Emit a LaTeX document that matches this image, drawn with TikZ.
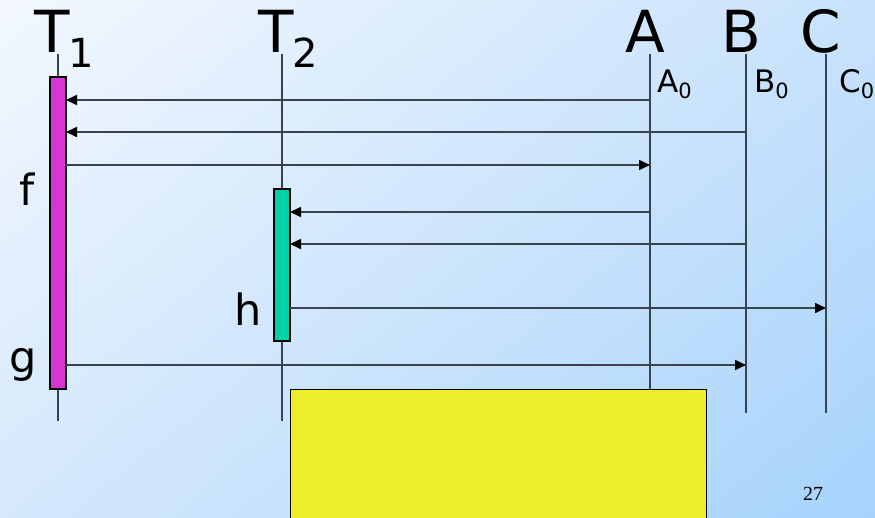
\documentclass[tikz,border=0pt]{standalone}
\usepackage{fontspec}
\setmainfont{DejaVu Sans}
\newfontfamily\pagenumfont{Liberation Serif}
\usepackage{tikz}
\usetikzlibrary{arrows.meta,positioning,calc,shadings}
\definecolor{bgtopleft}{RGB}{243,248,254}
\definecolor{bgtopright}{RGB}{200,226,252}
\definecolor{bgbottomleft}{RGB}{213,232,252}
\definecolor{bgbottomright}{RGB}{166,211,252}
\definecolor{lifegray}{RGB}{58,66,76}
\definecolor{barmagenta}{RGB}{217,53,211}
\definecolor{barteal}{RGB}{0,210,168}
\definecolor{noteyellow}{RGB}{237,237,42}

\begin{document}
\begin{tikzpicture}[x=1pt,y=-1pt,
    lifeline/.style={lifegray,line width=1.8pt},
    msg/.style={lifegray,line width=1.6pt,-{Triangle[length=11pt,width=10pt,fill=black,color=black]}},
    actbar/.style={draw=black,line width=1.2pt,minimum width=16pt,inner sep=0pt,outer sep=0pt},
    bigname/.style={font=\fontsize{58}{60}\selectfont,inner sep=0pt},
    bigsub/.style={font=\fontsize{40}{42}\selectfont,inner sep=0pt},
    statename/.style={font=\fontsize{31}{33}\selectfont,inner sep=0pt,anchor=base west},
    fnname/.style={font=\fontsize{43}{45}\selectfont,inner sep=0pt,anchor=base}]
  \useasboundingbox (0,0) rectangle (875,517);
  \shade[upper left=bgtopleft,upper right=bgtopright,
         lower left=bgbottomleft,lower right=bgbottomright] (0,0) rectangle (875,517);

  % lifelines
  \foreach \n/\x/\yend in {T1/58/421,T2/282/421,A/650/389,B/746/413,C/826/413} {
    \coordinate (lane\n) at (\x,54);
    \coordinate (end\n) at (\x,\yend);
    \draw[lifeline] (lane\n) -- (end\n);
  }

  % activation bars
  \node[actbar,fill=barmagenta,minimum height=312pt] (barT1) at (58,233) {};
  \node[actbar,fill=barteal,minimum height=152pt] (barT2) at (282,265) {};

  % message rows
  \foreach \r/\y in {1/100,2/132,3/165,4/212,5/244,6/308,7/365}
    \coordinate (row\r) at (0,\y);
  \foreach \from/\to/\r in {laneA/barT1.east/1,laneB/barT1.east/2,barT1.east/laneA/3,
                            laneA/barT2.east/4,laneB/barT2.east/5,barT2.east/laneC/6,
                            barT1.east/laneB/7}
    \draw[msg] (\from |- row\r) -- (\to |- row\r);

  \node[draw=black,line width=1.2pt,fill=noteyellow,inner sep=0pt,
        minimum width=416pt,minimum height=150pt,anchor=north west] (noteBox) at (290,389) {};

  % names
  \node[bigname,anchor=base] (nameT1) at (52.5,52) {T};
  \node[bigsub,anchor=base west] (subT1) at ([xshift=-2pt,yshift=-15pt]nameT1.base east) {1};
  \node[bigname,anchor=base] (nameT2) at (276,52) {T};
  \node[bigsub,anchor=base west] (subT2) at ([xshift=-2pt,yshift=-15pt]nameT2.base east) {2};
  \node[bigname,anchor=base] (nameA) at (645,52) {A};
  \node[bigname,anchor=base] (nameB) at (741,52) {B};
  \node[bigname,anchor=base] (nameC) at (821,52) {C};

  \node[statename] (stateA) at (657,92) {A\raisebox{-6pt}{\fontsize{21}{21}\selectfont 0}};
  \node[statename] (stateB) at (754,92) {B\raisebox{-6pt}{\fontsize{21}{21}\selectfont 0}};
  \node[statename] (stateC) at (839,92) {C\raisebox{-6pt}{\fontsize{21}{21}\selectfont 0}};

  \node[fnname] (fnf) at (27,205) {f};
  \node[fnname] (fng) at (23,372) {g};
  \node[fnname] (fnh) at (248,325) {h};

  \node[font=\pagenumfont\fontsize{20}{22}\selectfont,inner sep=0pt,anchor=base] (pageNo) at (813,500) {27};
\end{tikzpicture}
\end{document}
